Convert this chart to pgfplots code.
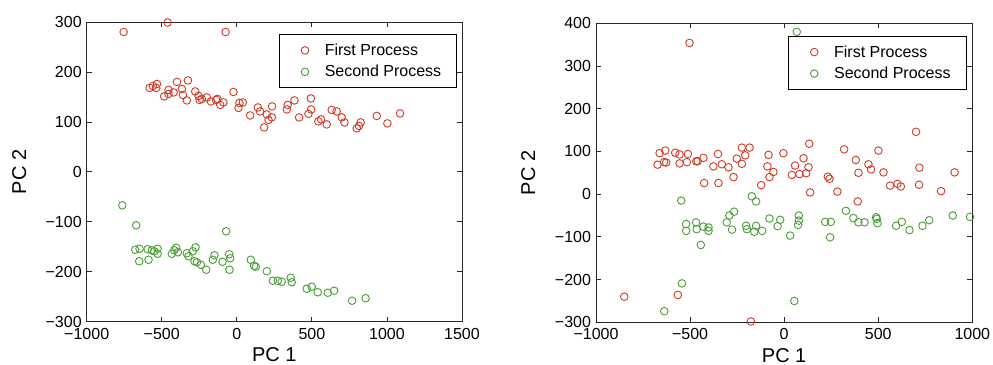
\documentclass[border=0pt]{standalone}
\usepackage{pgfplots}
\pgfplotsset{compat=1.18}
\usepackage{fontspec}
\setmainfont{Liberation Sans}
\definecolor{pred}{RGB}{208,58,36}
\definecolor{pgreen}{RGB}{72,158,52}
\begin{document}
\begin{tikzpicture}
\useasboundingbox (0bp,0bp) rectangle (993bp,365bp);
\pgfplotsset{
  every axis/.append style={
    scale only axis,
    clip=false,
    axis line style={line width=1bp, black!85},
    every tick/.style={line width=0.8bp, black!85},
    tick align=inside,
    major tick length=5bp,
    tick label style={font=\fontsize{16bp}{19bp}\selectfont},
    xticklabel style={yshift=-3bp},
    yticklabel style={xshift=-1.5bp},
    label style={font=\fontsize{20bp}{24bp}\selectfont},
    xlabel={PC 1}, ylabel={PC 2},
    xlabel style={at={(axis description cs:0.5,-0.11)}, anchor=center},
    ylabel style={at={(axis description cs:-0.18,0.5)}, anchor=center},
    legend style={anchor=north east, draw=black, line width=0.9bp,
      font=\fontsize{16bp}{19bp}\selectfont, fill=white,
      inner xsep=15.6bp, inner ysep=9.1bp, row sep=8.4bp, column sep=0bp,
      nodes={inner sep=0bp}},
    legend cell align=left,
  },
  pA/.style={only marks, mark=o, mark size=3.8bp, line width=0.9bp, color=pred,
    legend image code/.code={\path[draw=none] (0bp,0bp) -- (30.2bp,0bp);
      \draw[##1] plot[only marks] coordinates {(10.4bp,0bp)};}},
  pB/.style={only marks, mark=o, mark size=3.8bp, line width=0.9bp, color=pgreen,
    legend image code/.code={\path[draw=none] (0bp,0bp) -- (30.2bp,0bp);
      \draw[##1] plot[only marks] coordinates {(10.4bp,0bp)};}},
}
\begin{axis}[at={(86.7bp,43.3bp)}, anchor=south west, width=375.3bp, height=299.7bp,
  xmin=-1000, xmax=1500, ymin=-300, ymax=300,
  xtick={-1000,-500,0,500,1000,1500},
  xticklabels={−1000,−500,0,500,1000,1500},
  ytick={-300,-200,-100,0,100,200,300},
  yticklabels={−300,−200,−100,0,100,200,300},
  legend style={at={(rel axis cs:0.9875,0.959)}}]
\addplot[pA] coordinates {
(-754,280) (-461,299) (-75,280)
(-581,168) (-559,172) (-532,176) (-537,168) (-484,151) (-455,164) (-455,156)
(-421,159) (-399,180) (-366,166) (-359,154) (-333,143) (-326,183) (-277,161)
(-255,152) (-248,144) (-233,146) (-200,149) (-173,141) (-138,144) (-129,146)
(-111,134) (-89,139) (-22,160) (11,128) (18,138) (40,139) (89,113) (140,129)
(155,121) (182,89) (200,115) (211,104) (233,109) (235,131) (333,125) (339,134)
(384,143) (415,109) (477,116) (493,147) (495,125) (543,101) (561,105) (599,95)
(632,124) (665,121) (699,109) (717,99) (799,87) (814,92) (825,99) (932,112)
(1003,97) (1087,117)
};
\addlegendentry{First Process}
\addplot[pB] coordinates {
(-763,-67) (-670,-107) (-677,-156) (-648,-154) (-650,-179) (-594,-155) (-588,-176)
(-566,-157) (-550,-159) (-528,-154) (-528,-164) (-433,-164) (-417,-157) (-404,-152)
(-393,-161) (-333,-163) (-322,-169) (-293,-159) (-282,-179) (-275,-151) (-266,-181)
(-239,-186) (-204,-196) (-160,-176) (-149,-167) (-95,-180) (-71,-119) (-51,-165)
(-44,-173) (-49,-196) (93,-176) (115,-188) (126,-190) (200,-199) (240,-218)
(273,-218) (299,-220) (359,-212) (366,-221) (466,-234) (499,-230) (539,-241)
(606,-242) (648,-238) (768,-258) (858,-253)
};
\addlegendentry{Second Process}
\end{axis}
\begin{axis}[at={(596bp,42.7bp)}, anchor=south west, width=376.3bp, height=299bp,
  xmin=-1000, xmax=1000, ymin=-300, ymax=400,
  xtick={-1000,-500,0,500,1000},
  xticklabels={−1000,−500,0,500,1000},
  ytick={-300,-200,-100,0,100,200,300,400},
  yticklabels={−300,−200,−100,0,100,200,300,400},
  legend style={at={(rel axis cs:0.985,0.9575)}}]
\addplot[pA] coordinates {
(-503,354)
(-673,69) (-662,96) (-632,102) (-638,75) (-627,74) (-579,97) (-556,93) (-556,72)
(-517,75) (-512,94) (-467,77) (-460,77) (-429,85) (-376,65) (-352,94) (-331,70)
(-296,63) (-269,40) (-252,83) (-225,109) (-225,71) (-207,91) (-184,109) (-83,92)
(-89,65) (-78,40) (-57,52) (-4,96) (41,45) (58,67) (81,47) (103,84) (117,49)
(129,63) (133,118) (232,41) (241,36) (319,105) (381,80) (395,50) (448,70) (462,58)
(501,102) (528,51) (701,146) (719,62) (906,51)
(-425,26) (-349,26) (-122,21) (138,4) (283,6) (563,20) (602,24) (620,18) (717,22)
(834,7) (391,-17)
(-850,-240) (-565,-236) (-177,-298)
};
\addlegendentry{First Process}
\addplot[pB] coordinates {
(67,380)
(-547,-15) (-521,-70) (-521,-86) (-468,-66) (-465,-82) (-429,-76) (-402,-78)
(-402,-86) (-443,-119) (-305,-66) (-291,-50) (-266,-41) (-277,-83) (-172,-5)
(-149,-17) (-202,-74) (-198,-82) (-159,-88) (-149,-74) (-117,-86) (-78,-57)
(-35,-75) (-21,-60) (32,-97) (78,-50) (78,-62) (74,-72) (218,-65) (248,-65)
(244,-101) (328,-39) (368,-56) (395,-66) (427,-66) (489,-54) (492,-58) (496,-68)
(595,-74) (625,-65) (666,-84) (735,-74) (771,-61) (896,-50) (988,-53)
(-543,-209) (-637,-274) (54,-250)
};
\addlegendentry{Second Process}
\end{axis}
\end{tikzpicture}
\end{document}
